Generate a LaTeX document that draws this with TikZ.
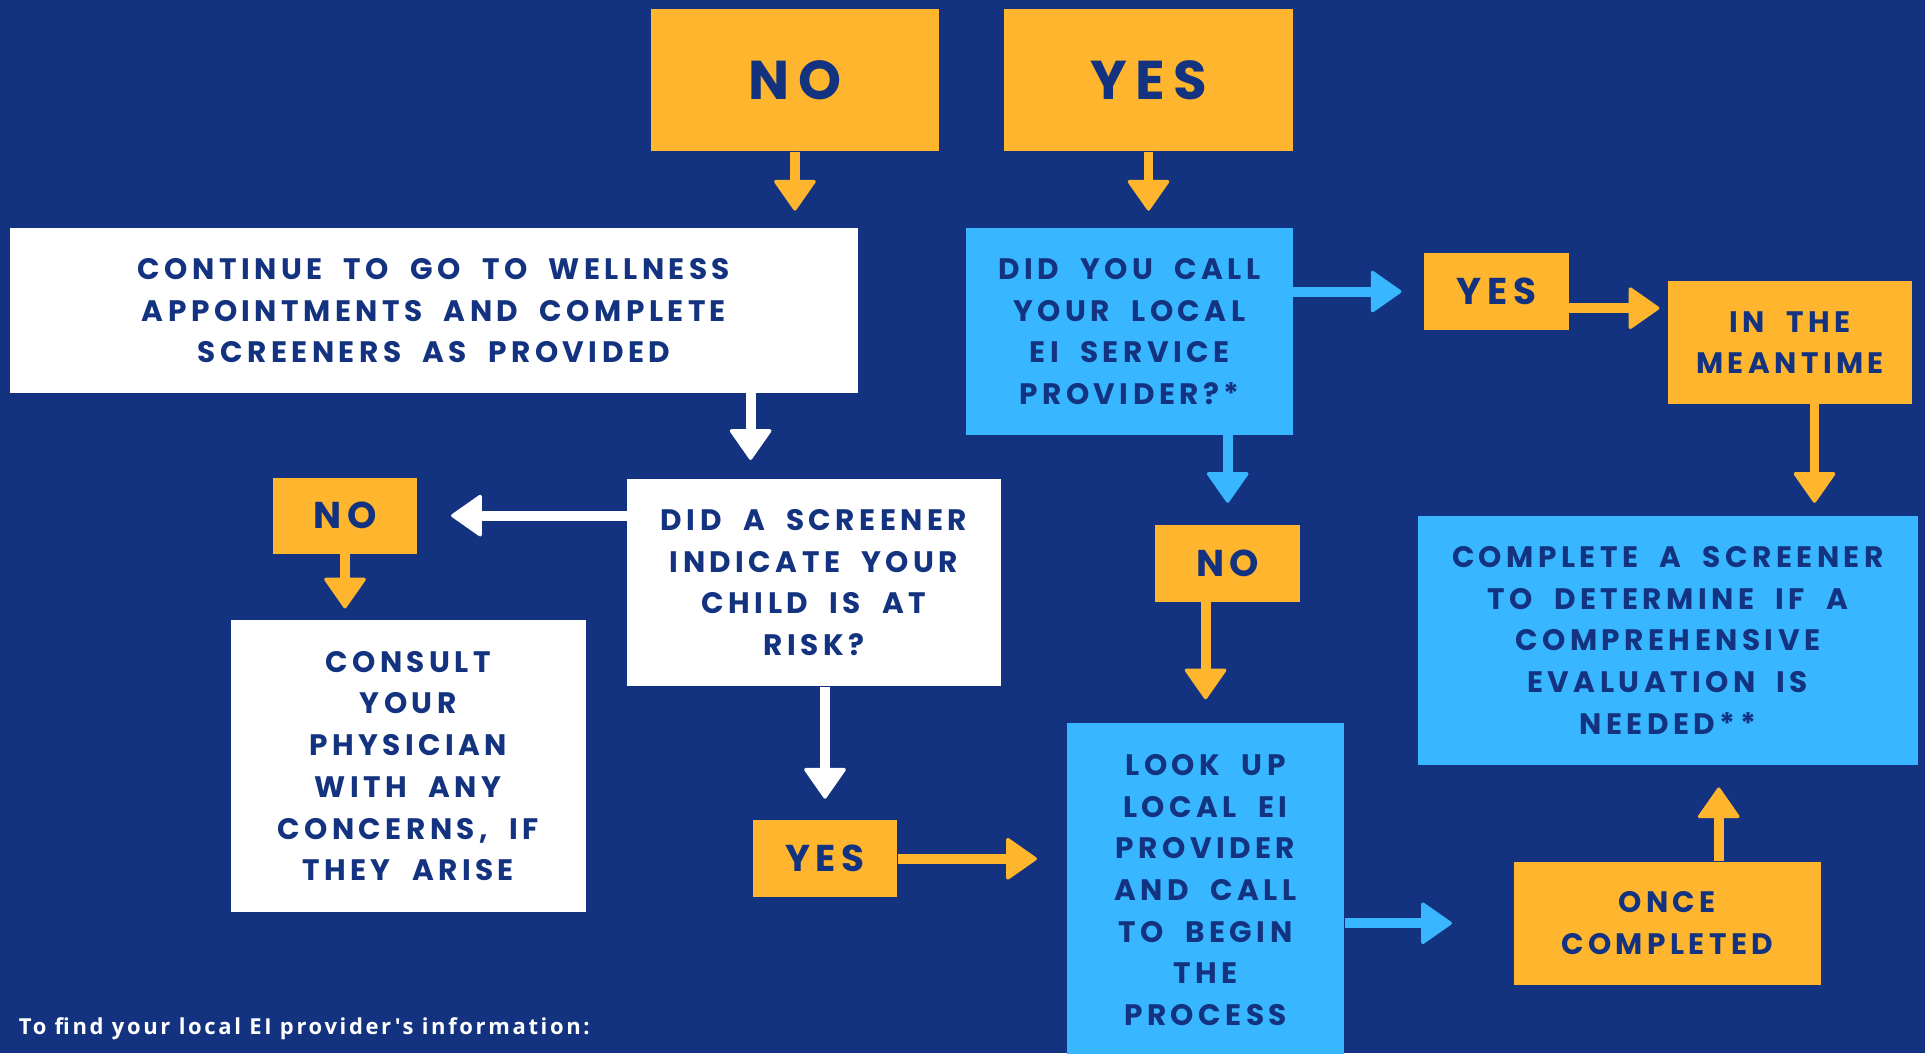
\documentclass[tikz,border=0pt]{standalone}
\usepackage{fontspec}
\newfontfamily\chartfont[LetterSpace=15,WordSpace=2]{Poppins}
\newfontfamily\notefont[LetterSpace=12]{Open Sans}
\usetikzlibrary{arrows.meta,calc}
\definecolor{navy}{RGB}{19,51,128}
\definecolor{gold}{RGB}{255,182,46}
\definecolor{sky}{RGB}{56,182,255}

\tikzset{every picture/.style={line width=0.75pt}}
\tikzset{
  card/.style 2 args={inner sep=0pt, minimum width=#1*0.92076pt, minimum height=#2*0.92076pt,
    align=center, text=navy, font=\chartfont\bfseries\fontsize{22.2}{31.3}\selectfont},
  goldcard/.style 2 args={card={#1}{#2}, fill=gold},
  whitecard/.style 2 args={card={#1}{#2}, fill=white},
  skycard/.style 2 args={card={#1}{#2}, fill=sky},
  bigword/.style={font=\chartfont\bfseries\fontsize{41}{45}\selectfont},
  smallword/.style={font=\chartfont\bfseries\fontsize{28}{32}\selectfont},
  link/.style={line width=7.4pt, -{Triangle[width=33pt,length=24pt,line width=2.5pt,round]}},
}

\begin{document}
\begin{tikzpicture}[x=0.92076pt,y=0.92076pt,yscale=-1,xscale=1]
\useasboundingbox (0,0) rectangle (1568,858);
%Shape: Rectangle (background)
\fill [navy] (0,0) rectangle (1568,858);

% Text Node
\draw (647.5,65) node (noA) [goldcard={235}{116}, bigword] {\raisebox{-3.7pt}{NO}};
% Text Node
\draw (935.5,65) node (yesA) [goldcard={235}{116}, bigword] {\raisebox{-3.7pt}{YES}};
% Text Node
\draw (353.5,253) node (cont) [whitecard={691}{134}] {CONTINUE TO GO TO WELLNESS\\APPOINTMENTS AND COMPLETE\\SCREENERS AS PROVIDED};
% Text Node
\draw (920,270) node (call) [skycard={266}{168}] {DID YOU CALL\\YOUR LOCAL\\EI SERVICE\\PROVIDER?*};
% Text Node
\draw (1219,237.5) node (yesC) [goldcard={118}{63}, smallword] {YES};
% Text Node
\draw (1458,279) node (mean) [goldcard={198}{100}] {IN THE\\MEANTIME};
% Text Node
\draw (1358.5,521.5) node (comp) [skycard={407}{203}] {COMPLETE A SCREENER\\TO DETERMINE IF A\\COMPREHENSIVE\\EVALUATION IS\\NEEDED**};
% Text Node
\draw (1000,459) node (noC) [goldcard={118}{62}, smallword] {NO};
% Text Node
\draw (982,725) node (look) [skycard={226}{272}] {LOOK UP\\LOCAL EI\\PROVIDER\\AND CALL\\TO BEGIN\\THE\\PROCESS};
% Text Node
\draw (1358,752) node (once) [goldcard={250}{100}] {ONCE\\COMPLETED};
% Text Node
\draw (663,474.5) node (risk) [whitecard={304}{169}] {DID A SCREENER\\INDICATE YOUR\\CHILD IS AT\\RISK?};
% Text Node
\draw (281,420) node (noB) [goldcard={118}{62}, smallword] {NO};
% Text Node
\draw (332.5,624) node (consult) [whitecard={289}{238}] {CONSULT\\YOUR\\PHYSICIAN\\WITH ANY\\CONCERNS, IF\\THEY ARISE};
% Text Node
\draw (672,699.5) node (yesB) [goldcard={118}{63}, smallword] {YES};
% Text Node
\draw (15,838) node (note) [anchor=west, inner sep=0pt, text=white, font=\notefont\bfseries\fontsize{16.5}{19}\selectfont] {To find your local EI provider's information:};

\coordinate (cdrop) at ($(cont.south east)+(-88,0)$);
\coordinate (ydrop) at ($(yesC.east)+(0,13.5)$);
\coordinate (mdrop) at ($(mean.south)+(20,0)$);
\coordinate (orise) at ($(once.north)+(42,0)$);

%Straight Lines
\draw [link, gold, shorten >=12.9pt] (noA.south) -- (noA.south |- cont.north);
%Straight Lines
\draw [link, gold, shorten >=12.9pt] (yesA.south) -- (yesA.south |- call.north);
%Straight Lines
\draw [link, white, shorten >=13.8pt] (cdrop) -- (cdrop |- risk.north);
%Straight Lines
\draw [link, white, shorten >=24.9pt] (risk.west |- noB.east) -- (noB.east);
%Straight Lines
\draw [link, gold, shorten >=8.3pt] (noB.south) -- (noB.south |- consult.north);
%Straight Lines
\draw [link, white, shorten >=15.7pt] (yesB.north |- risk.south) -- (yesB.north);
%Straight Lines
\draw [link, gold, shorten >=22.1pt] (yesB.east) -- (yesB.east -| look.west);
%Straight Lines
\draw [link, sky, shorten >=16.6pt] (yesC.west -| call.east) -- (yesC.west);
%Straight Lines
\draw [link, gold, shorten >=6.4pt] (ydrop) -- (ydrop -| mean.west);
%Straight Lines
\draw [link, gold, shorten >=9.2pt] (mdrop) -- (mdrop |- comp.north);
%Straight Lines
\draw [link, sky, shorten >=16.6pt] (noC.north |- call.south) -- (noC.north);
%Straight Lines
\draw [link, gold, shorten >=17.5pt] (look.north |- noC.south) -- (look.north);
%Straight Lines
\draw [link, sky, shorten >=46pt] (once.west -| look.east) -- (once.west);
%Straight Lines
\draw [link, gold, shorten >=16.6pt] (orise) -- (orise |- comp.south);

\end{tikzpicture}
\end{document}
